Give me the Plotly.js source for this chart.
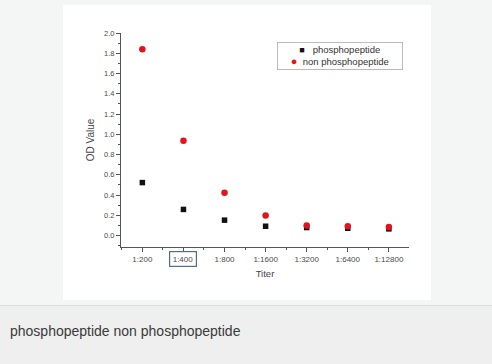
<!DOCTYPE html>
<html>
<head>
<meta charset="utf-8">
<script src="https://cdn.plot.ly/plotly-3.0.1.min.js"></script>
<style>
  html, body { margin: 0; padding: 0; }
  body { width: 492px; height: 364px; position: relative; background: #f4f5f5; overflow: hidden;
         font-family: "Liberation Sans", Arial, sans-serif; }
  #chart { position: absolute; left: 63px; top: 5px; width: 368px; height: 295px; background: #fff; }
  #rule { position: absolute; left: 0; top: 305px; width: 492px; height: 1px; background: #dcdddd; }
  #caption { position: absolute; left: 0; top: 306px; width: 492px; height: 58px; background: #eeefee; }
  #caption p { margin: 0; position: absolute; left: 10px; top: 17px; font-size: 14px; color: #3a3a3a; }
</style>
</head>
<body>
<div id="chart"></div>
<div id="rule"></div>
<div id="caption"><p>phosphopeptide non phosphopeptide</p></div>
<script>
// Serum dilution series
const titers = ["1:200", "1:400", "1:800", "1:1600", "1:3200", "1:6400", "1:12800"];
// OD readings per dilution
const phospho = [0.523, 0.258, 0.152, 0.092, 0.079, 0.072, 0.066];
const nonPhospho = [1.839, 0.937, 0.423, 0.199, 0.099, 0.092, 0.085];
const seriesNames = ["phosphopeptide", "non phosphopeptide"];
const seriesColors = ["#111111", "rgb(228,18,28)"];
const highlighted = "1:400";

const FONT = "Liberation Sans, Arial, sans-serif";
const idx = titers.map((t, i) => i);
const tickFont = { family: FONT, size: 8, color: "#4a4a4a" };

const traces = [
  {
    x: idx, y: phospho, name: seriesNames[0], type: "scatter", mode: "markers",
    marker: { symbol: "square", size: 5.5, color: seriesColors[0] }
  },
  {
    x: idx, y: nonPhospho, name: seriesNames[1], type: "scatter", mode: "markers",
    marker: { symbol: "circle", size: 6.5, color: seriesColors[1] }
  }
];

// Compact boxed key in the upper right of the plot
const keyText =
  '<span style="color:' + seriesColors[0] + ';font-size:9px">\u25A0</span>   ' + seriesNames[0] +
  '<br><span style="color:' + seriesColors[1] + ';font-size:11px">\u25CF</span>  ' + seriesNames[1];

const layout = {
  width: 368, height: 295,
  margin: { l: 58, r: 22, t: 28, b: 53 },
  paper_bgcolor: "#fff", plot_bgcolor: "#fff",
  showlegend: false,
  xaxis: {
    range: [-0.52, 6.49], tickvals: idx, ticktext: titers,
    showgrid: false, zeroline: false, showline: true, linecolor: "#555", linewidth: 1,
    ticks: "outside", ticklen: 4, tickcolor: "#555", tickfont: tickFont,
    minor: { dtick: 0.5, tick0: 0.5, ticks: "outside", ticklen: 2, tickcolor: "#555" },
    title: { text: "Titer", font: { family: FONT, size: 9.5, color: "#444" }, standoff: 7 }
  },
  yaxis: {
    range: [-0.113, 2.0], tick0: 0, dtick: 0.2, tickformat: ".1f",
    showgrid: false, zeroline: false, showline: true, linecolor: "#555", linewidth: 1,
    ticks: "outside", ticklen: 4, tickcolor: "#555", tickfont: { family: FONT, size: 7.5, color: "#4a4a4a" },
    minor: { dtick: 0.1, ticks: "outside", ticklen: 2, tickcolor: "#555" },
    title: { text: "OD Value", font: { family: FONT, size: 10, color: "#444" }, standoff: 7 }
  },
  annotations: [
    {
      x: titers.indexOf(highlighted), xref: "x", y: 0, yref: "paper", yanchor: "top", yshift: -4,
      text: highlighted, showarrow: false, font: tickFont,
      bgcolor: "#fff", bordercolor: "#4f6e8c", borderwidth: 1.2, borderpad: 2.5
    },
    {
      x: 0.5406, xref: "paper", xanchor: "left", y: 0.958, yref: "paper", yanchor: "top",
      width: 122, height: 24, align: "center", valign: "middle",
      text: keyText, showarrow: false,
      font: { family: FONT, size: 9.5, color: "#333" },
      bgcolor: "#fff", bordercolor: "#aaa", borderwidth: 0.8, borderpad: 1
    }
  ]
};

Plotly.newPlot("chart", traces, layout, { displayModeBar: false, staticPlot: true });
</script>
</body>
</html>
